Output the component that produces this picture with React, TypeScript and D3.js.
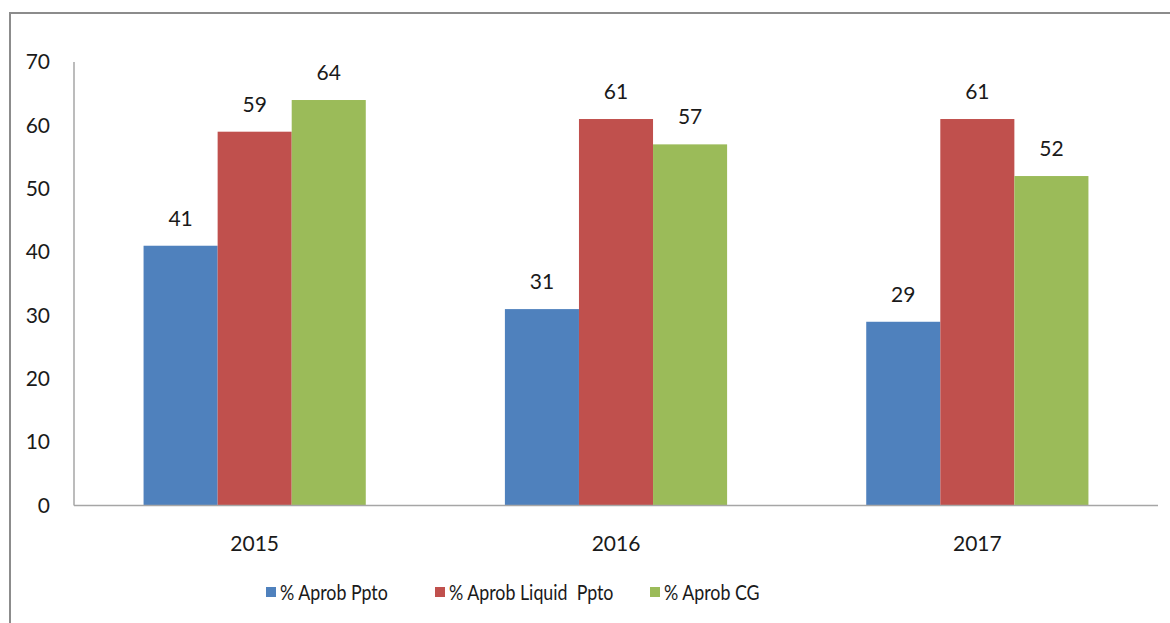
import React, { useEffect, useRef } from 'react';
import * as d3 from 'd3';

const years = ['2015', '2016', '2017'];
const seriesNames = ['% Aprob Ppto', '% Aprob Liquid  Ppto', '% Aprob CG'];
const aprobPpto = [41, 31, 29];
const aprobLiquid = [59, 61, 61];
const aprobCG = [64, 57, 52];
const yTicks = [0, 10, 20, 30, 40, 50, 60, 70];
const colors = ['#4F81BD', '#C0504D', '#9BBB59'];

const FONT = 'Lato, "Open Sans", sans-serif';

const App: React.FC = () => {
  const svgRef = useRef<SVGSVGElement>(null);

  useEffect(() => {
    if (!svgRef.current) return;
    const width = 1170;
    const height = 623;
    const svg = d3.select(svgRef.current).attr('width', width).attr('height', height);
    svg.selectAll('*').remove();

    // outer frame (cropped at right and bottom)
    svg
      .append('rect')
      .attr('x', 10)
      .attr('y', 13)
      .attr('width', 1200)
      .attr('height', 700)
      .attr('fill', 'white')
      .attr('stroke', '#8c8c8c')
      .attr('stroke-width', 2);

    const left = 74;
    const right = 1158;
    const top = 62;
    const bottom = 505.5;

    const x = d3.scaleBand<string>().domain(years).range([left, right]);
    const y = d3.scaleLinear().domain([0, 70]).range([bottom, top]);

    const barW = (x.bandwidth() * 74) / 361;
    const series = [aprobPpto, aprobLiquid, aprobCG];

    const g = svg.append('g');

    years.forEach((yr, i) => {
      const cx = x(yr)! + x.bandwidth() / 2;
      const start = cx - (barW * 3) / 2;
      series.forEach((vals, s) => {
        const v = vals[i];
        g.append('rect')
          .attr('x', start + s * barW)
          .attr('y', y(v))
          .attr('width', barW)
          .attr('height', y(0) - y(v))
          .attr('fill', colors[s]);
        g.append('text')
          .attr('x', start + s * barW + barW / 2)
          .attr('y', y(v) - 20)
          .attr('text-anchor', 'middle')
          .attr('font-family', FONT)
          .attr('font-size', 21)
          .attr('fill', '#1a1a1a')
          .text(v);
      });
      g.append('text')
        .attr('x', cx)
        .attr('y', 551)
        .attr('text-anchor', 'middle')
        .attr('font-family', FONT)
        .attr('font-size', 21)
        .attr('fill', '#1a1a1a')
        .text(yr);
    });

    // axes
    svg
      .append('line')
      .attr('x1', left)
      .attr('x2', left)
      .attr('y1', top)
      .attr('y2', bottom)
      .attr('stroke', '#a6a6a6')
      .attr('stroke-width', 1.5);
    svg
      .append('line')
      .attr('x1', left)
      .attr('x2', right)
      .attr('y1', bottom)
      .attr('y2', bottom)
      .attr('stroke', '#a6a6a6')
      .attr('stroke-width', 1.5);

    svg
      .selectAll('text.ytick')
      .data(yTicks)
      .enter()
      .append('text')
      .attr('class', 'ytick')
      .attr('x', 50)
      .attr('y', (d) => y(d))
      .attr('dy', '0.35em')
      .attr('text-anchor', 'end')
      .attr('font-family', FONT)
      .attr('font-size', 21)
      .attr('fill', '#1a1a1a')
      .text((d) => d);

    // legend (Calibri-like narrow text: squeeze horizontally)
    const legendX = [266, 435, 650];
    const legend = svg
      .selectAll('g.legend')
      .data(seriesNames)
      .enter()
      .append('g')
      .attr('class', 'legend')
      .attr('transform', (_d, i) => `translate(${legendX[i]}, 592)`);
    legend
      .append('rect')
      .attr('x', 0)
      .attr('y', -5)
      .attr('width', 10)
      .attr('height', 10)
      .attr('fill', (_d, i) => colors[i]);
    legend
      .append('text')
      .attr('transform', 'translate(14,0) scale(0.81,1)')
      .attr('dy', '0.35em')
      .attr('font-family', FONT)
      .attr('font-size', 22)
      .attr('fill', '#1a1a1a')
      .style('white-space', 'pre')
      .text((d) => d);
  }, []);

  return (
    <div style={{ position: 'absolute', left: 0, top: 0 }}>
      <svg ref={svgRef} style={{ display: 'block' }}></svg>
    </div>
  );
};

export default App;
